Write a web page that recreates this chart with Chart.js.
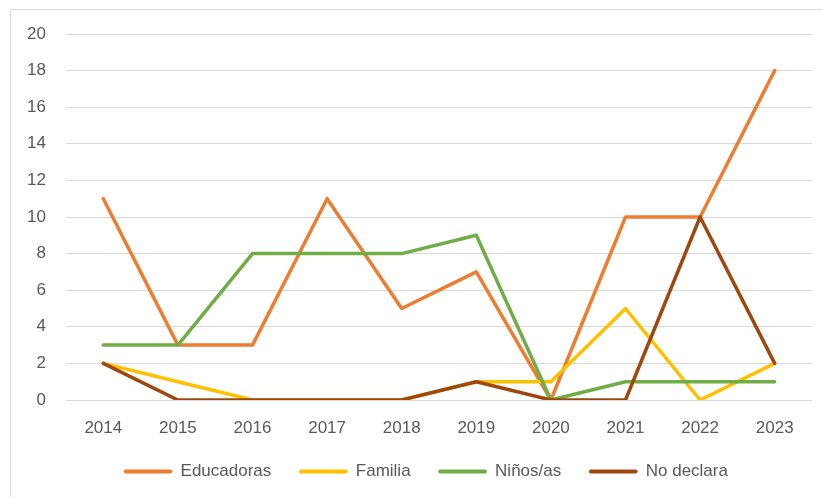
<!DOCTYPE html>
<html>
<head>
<meta charset="utf-8">
<script src="https://cdn.jsdelivr.net/npm/chart.js@4"></script>
<style>
html,body{margin:0;padding:0;background:#fff;}
#wrap{position:absolute;left:0;top:0;width:822px;height:497px;}
#frame{position:absolute;left:10px;top:9px;width:830px;height:500px;border-left:1px solid #d9d9d9;border-top:1px solid #d9d9d9;}
canvas{position:absolute;left:0;top:0;}
</style>
</head>
<body>
<div id="wrap"><div id="frame"></div><canvas id="c" width="822" height="497"></canvas></div>
<script>
const categories = ["2014","2015","2016","2017","2018","2019","2020","2021","2022","2023"];
const educadoras = [11,3,3,11,5,7,0,10,10,18];
const familia    = [2,1,0,0,0,1,1,5,0,2];
const ninos      = [3,3,8,8,8,9,0,1,1,1];
const noDeclara  = [2,0,0,0,0,1,0,0,10,2];
const yTicks = [0,2,4,6,8,10,12,14,16,18,20];

const FONT = {family:"'Liberation Sans', Arial, sans-serif", size:17};
const TXT = '#595959';
function ds(label, data, color, order){
  return {label, data, order, borderColor:color, backgroundColor:color, borderWidth:3.5,
    pointRadius:0, pointHoverRadius:0, tension:0, borderCapStyle:'round', borderJoinStyle:'round', fill:false};
}
const shiftLegend = {
  id:'shiftLegend',
  afterLayout(chart){
    const lg = chart.legend;
    if (lg && !lg._patched){
      const orig = lg.draw.bind(lg);
      lg.draw = function(){
        const ctx = chart.ctx; ctx.save(); ctx.translate(20,0); orig(); ctx.restore();
      };
      lg._patched = true;
    }
  }
};
new Chart(document.getElementById('c'), {
  type:'line',
  data:{labels:categories, datasets:[
    ds('Educadoras', educadoras, '#ED7D31', 4),
    ds('Familia', familia, '#FFC000', 3),
    ds('Niños/as', ninos, '#70AD47', 2),
    ds('No declara', noDeclara, '#9E480E', 1)
  ]},
  plugins:[shiftLegend],
  options:{
    responsive:false, animation:false, devicePixelRatio:1,
    layout:{padding:{top:34,right:10,bottom:7,left:0}},
    plugins:{
      tooltip:{enabled:false},
      legend:{position:'bottom', labels:{
        font:FONT, color:TXT, boxWidth:48, boxHeight:3, padding:28,
        useBorderRadius:true, borderRadius:1.5,
        sort:(a,b)=>a.datasetIndex-b.datasetIndex,
        generateLabels(chart){
          const items = Chart.defaults.plugins.legend.labels.generateLabels(chart);
          items.forEach(i=>{ i.lineWidth=1; });
          return items;
        }
      }}
    },
    scales:{
      x:{offset:true, grid:{display:false, drawTicks:false}, border:{display:false},
        ticks:{font:FONT, color:TXT, padding:18, maxRotation:0},
        afterFit(s){ s.height = 35; }},
      y:{min:0, max:20, afterBuildTicks(s){ s.ticks = yTicks.map(v=>({value:v})); },
        grid:{color:'#d9d9d9', lineWidth:1, drawTicks:false}, border:{display:false},
        ticks:{font:FONT, color:TXT, padding:20},
        afterFit(s){ s.width = 66; }}
    }
  }
});
</script>
</body>
</html>
